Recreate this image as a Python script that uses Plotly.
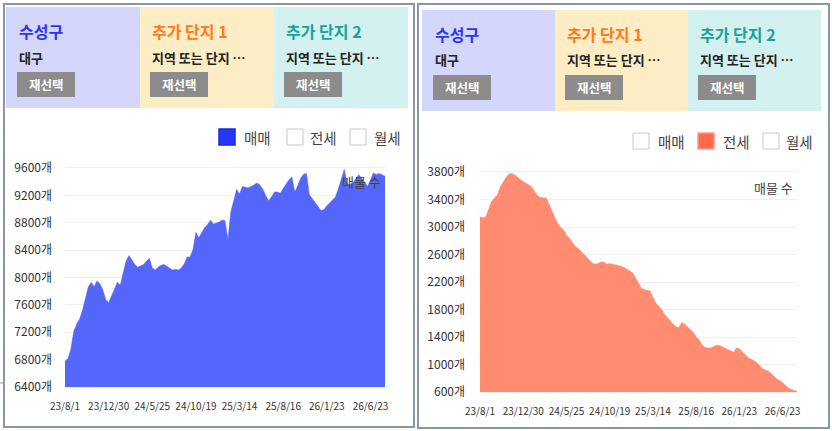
import plotly.graph_objects as go

W, H = 832, 431
FONT = "Noto Sans CJK KR"

# x labels shown every 15 points
date_labels = ["23/8/1", "23/12/30", "24/5/25", "24/10/19", "25/3/14", "25/8/16", "26/1/23", "26/6/23"]
label_step = 15

# 매매 listings (left panel)
sale_counts = [
    6780, 6810, 6950, 7210, 7320, 7390, 7520, 7700, 7860, 7930,
    7870, 7950, 7910, 7820, 7680, 7630, 7740, 7830, 7930, 7890,
    8080, 8240, 8320, 8260, 8190, 8150, 8170, 8190, 8240, 8280,
    8140, 8110, 8150, 8180, 8190, 8160, 8130, 8110, 8120, 8110,
    8140, 8200, 8300, 8300, 8410, 8660, 8580, 8660, 8730, 8770,
    8840, 8780, 8790, 8810, 8840, 8830, 8550, 8960, 9120, 9290,
    9220, 9330, 9320, 9310, 9330, 9360, 9380, 9350, 9290, 9200,
    9120, 9180, 9250, 9250, 9230, 9300, 9370, 9430, 9470, 9250,
    9340, 9450, 9510, 9520, 9210, 9150, 9090, 9040, 8980, 8990,
    9050, 9090, 9130, 9180, 9300, 9430, 9580, 9370, 9360, 9380,
    9440, 9500, 9450, 9390, 9330, 9420, 9530, 9500, 9520, 9500,
    9480,
]

# 전세 listings (right panel)
jeonse_counts = [
    3150, 3130, 3150, 3270, 3370, 3420, 3460, 3580, 3660, 3720,
    3770, 3780, 3760, 3720, 3690, 3660, 3640, 3610, 3580, 3510,
    3450, 3430, 3420, 3420, 3330, 3220, 3130, 3050, 2990, 2960,
    2880, 2840, 2770, 2720, 2690, 2650, 2610, 2560, 2520, 2470,
    2460, 2470, 2490, 2490, 2460, 2470, 2460, 2460, 2450, 2430,
    2410, 2390, 2360, 2330, 2260, 2190, 2110, 2090, 2080, 2070,
    1980, 1890, 1850, 1800, 1730, 1680, 1640, 1590, 1550, 1540,
    1610, 1590, 1550, 1510, 1470, 1400, 1360, 1290, 1250, 1240,
    1240, 1260, 1280, 1280, 1260, 1250, 1230, 1210, 1180, 1240,
    1230, 1190, 1140, 1100, 1080, 1060, 1030, 990, 940, 920,
    905, 870, 830, 790, 770, 730, 695, 660, 635, 620,
    610,
]

sale_ticks = [6400, 6800, 7200, 7600, 8000, 8400, 8800, 9200, 9600]
jeonse_ticks = [600, 1000, 1400, 1800, 2200, 2600, 3000, 3400, 3800]

box_titles = ["수성구", "추가 단지 1", "추가 단지 2"]
box_subtitles = ["대구", "지역 또는 단지 …", "지역 또는 단지 …"]
legend_names = ["매매", "전세", "월세"]


def fx(x):
    return x / W


def fy(y):
    return 1 - y / H


fig = go.Figure()

fig.add_trace(
    go.Scatter(
        x=list(range(len(sale_counts))), y=sale_counts, mode="lines", fill="tozeroy",
        line=dict(color="#5566fa", width=0.5), fillcolor="#5566fa",
        showlegend=False, xaxis="x", yaxis="y",
    )
)
fig.add_trace(
    go.Scatter(
        x=list(range(len(jeonse_counts))), y=jeonse_counts, mode="lines", fill="tozeroy",
        line=dict(color="#ff8b71", width=0.5), fillcolor="#ff8b71",
        showlegend=False, xaxis="x2", yaxis="y2",
    )
)

tickvals = [i * label_step for i in range(len(date_labels))]
common_x = dict(
    range=[0, len(sale_counts) - 1], tickvals=tickvals, ticktext=date_labels,
    tickangle=0, automargin=False,
    showgrid=False, zeroline=False, showline=True, mirror=True, linecolor="#f0f0f0",
    tickfont=dict(family=FONT, size=10, color="#333"), ticklabelstandoff=10, ticks="",
)
common_y = dict(
    showgrid=True, gridcolor="#efefef", zeroline=False, automargin=False,
    tickfont=dict(family=FONT, size=12, color="#333"), ticks="",
)

fig.update_layout(
    width=W, height=H, margin=dict(l=0, r=0, t=0, b=0),
    paper_bgcolor="white", plot_bgcolor="white",
    font=dict(family=FONT),
    xaxis=dict(domain=[fx(65), fx(385)], anchor="y", **common_x),
    yaxis=dict(domain=[fy(387), fy(168)], anchor="x", range=[6400, 9600],
               tickvals=sale_ticks, ticktext=[f"{v}개" for v in sale_ticks],
               ticklabelstandoff=12, **common_y),
    xaxis2=dict(domain=[fx(480), fx(797)], anchor="y2", **common_x),
    yaxis2=dict(domain=[fy(392), fy(172)], anchor="x2", range=[600, 3800],
                tickvals=jeonse_ticks, ticktext=[f"{v}개" for v in jeonse_ticks],
                ticklabelstandoff=14, **common_y),
)

shapes = []
annots = []


def rect(x0, y0, x1, y1, fill, line_color=None, line_width=0, layer="above"):
    shapes.append(dict(
        type="rect", xref="paper", yref="paper",
        x0=fx(x0), x1=fx(x1), y0=fy(y1), y1=fy(y0),
        fillcolor=fill, layer=layer,
        line=dict(color=line_color or fill, width=line_width),
    ))


def text(x, y, s, size, color, weight="normal", anchor="left"):
    annots.append(dict(
        xref="paper", yref="paper", x=fx(x), y=fy(y), text=s, showarrow=False,
        xanchor=anchor, yanchor="middle",
        font=dict(family=FONT, size=size, color=color, weight=weight),
    ))


# panel frames
rect(4, 4, 414, 427, "rgba(0,0,0,0)", "#8c95a8", 2, layer="below")
rect(418, 4, 829, 428, "rgba(0,0,0,0)", "#8c95a8", 2, layer="below")
shapes.append(dict(type="line", xref="paper", yref="paper", x0=0, x1=fx(4),
                   y0=fy(383), y1=fy(383), line=dict(color="#8c95a8", width=1)))

box_fills = ["#d4d7fb", "#fdedc4", "#d2f1f0"]
title_colors = ["#2b35f5", "#ff7a1a", "#17a39b"]

panels = [
    dict(boxes=[(6, 140), (140, 274), (274, 408)], top=7, bottom=108, dy=0,
         legend=[(219, 242), (287, 308), (350, 372)], leg_y=137, active=0,
         active_fill="#2438ff", active_line="#1a2bd6", note=(383, 182)),
    dict(boxes=[(422, 555), (555, 688), (688, 821)], top=10, bottom=111, dy=3,
         legend=[(633, 656), (698, 721), (763, 784)], leg_y=141, active=1,
         active_fill="#ff6a4d", active_line="#ff9c86", note=(795, 187)),
]

for p in panels:
    dy = p["dy"]
    for k, (x0, x1) in enumerate(p["boxes"]):
        rect(x0, p["top"], x1, p["bottom"], box_fills[k])
        tx = x0 + (11 if k == 0 else 10)
        text(tx, 31 + dy, box_titles[k], 16, title_colors[k], "bold")
        text(tx, 57 + dy, box_subtitles[k], 13, "#222", 600)
        rect(tx, 72 + dy, tx + 58, 97 + dy, "#8c8c8c")
        text(tx + 29, 84.5 + dy, "재선택", 12.5, "white", "bold", anchor="center")
    for k, (sx, tx) in enumerate(p["legend"]):
        y = p["leg_y"]
        if k == p["active"]:
            rect(sx, y - 8, sx + 16, y + 8, p["active_fill"], p["active_line"], 1.5)
        else:
            rect(sx, y - 8, sx + 16, y + 8, "white", "#c8c8c8", 1)
        text(tx, y, legend_names[k], 14.5, "#444")
    nx, ny = p["note"]
    text(nx, ny, "매물 수", 13, "#444", anchor="right")

fig.update_layout(shapes=shapes, annotations=annots)

# page body has a default 8px margin; drop it so the figure sits at the corner
fig.write_html(
    "out.html",
    config={"displayModeBar": False},
    post_script="document.body.style.margin='0';",
)
